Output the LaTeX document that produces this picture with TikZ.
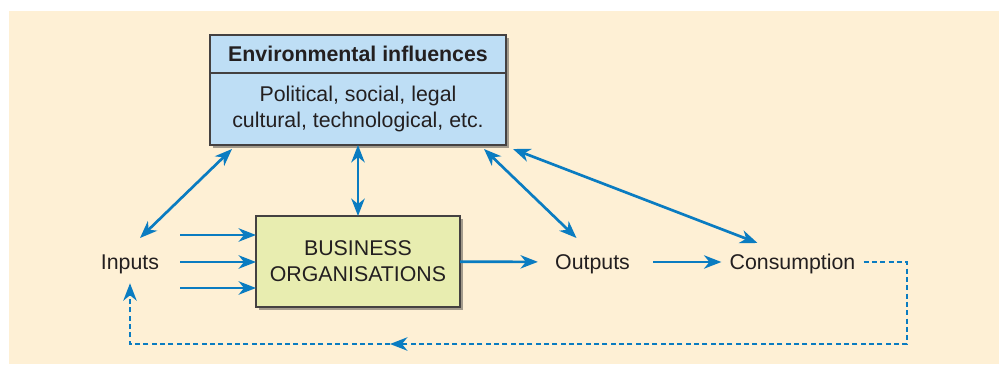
\documentclass[tikz,border=0pt]{standalone}
\usepackage{fontspec}
\setmainfont{Liberation Sans}
\usepackage{xcolor}
\usepackage{tikz}
\usetikzlibrary{positioning}
\usetikzlibrary{arrows.meta}
\usetikzlibrary{shadows}
\definecolor{paper}{HTML}{FEF0D5}
\definecolor{flowblue}{HTML}{0A7CC1}
\definecolor{envfill}{HTML}{BEDEF5}
\definecolor{bizfill}{HTML}{E8EDB0}
\definecolor{inkgray}{HTML}{231F20}
\definecolor{shadowgray}{HTML}{A39B8C}

\begin{document}
\begin{tikzpicture}[x=0.75pt, y=-0.75pt]

                \def\lw{2pt}
                \def\gap{0pt}

                % Looks of the boxes, the plain words and the arrows
                \tikzset{
                    every node/.style={font=\fontsize{16}{19.5}\selectfont, text=inkgray},
                    box/.style={draw=inkgray!85, line width=1pt, outer sep=0pt,
                        align=center, drop shadow={shadow xshift=2.5pt,
                        shadow yshift=-2.5pt, fill=shadowgray, opacity=1}},
                    word/.style={inner xsep=6pt, inner ysep=4pt,
                        text height=11.5pt, text depth=0pt},
                    flowtip/.tip={Stealth[length=13pt, width=10pt, inset=4pt]},
                    flow/.style={draw=flowblue, line width=\lw, -flowtip},
                    twoway/.style={draw=flowblue, line width=\lw, flowtip-flowtip},
                    feedback/.style={draw=flowblue, line width=1.8pt,
                        dash pattern=on 3.75pt off 2.5pt, -flowtip}
                }

                \useasboundingbox (0, 0) rectangle (999, 364);
                \fill[paper] (9, 11) rectangle (999, 364);

                % Boxes and words
                \begin{scope}
                    \node (envhead) [box, fill=envfill, minimum width=222pt,
                    minimum height=28.5pt] at (358, 54)
                    {\bfseries Environmental influences};
                    \node (envbody) [box, fill=envfill, minimum width=222pt,
                    minimum height=54pt, below=\gap of envhead]
                    {Political, social, legal\\cultural, technological, etc.};
                    \node (biz) [box, fill=bizfill, minimum width=153pt,
                    minimum height=68.25pt] at (358, 261.5)
                    {BUSINESS\\ORGANISATIONS};
                    \node (inputs) [word] at (130, 262) {Inputs};
                    \node (outputs) [word] at (592.5, 262) {Outputs};
                    \node (consumption) [word] at (792.5, 262) {Consumption};

                    \coordinate (loopR) at (907, 344);
                    \coordinate (loopM) at (390, 344);
                    \coordinate (loopL) at (130, 344);
                \end{scope}

                % Arrows
                \begin{scope}
                    \foreach \y in {235, 262, 288} {
                        \coordinate (in\y) at (180, \y);
                        \draw[flow] (in\y) -- (biz.west |- in\y);
                    }
                    \draw[flow, shorten >=6.75pt] (biz) -- (outputs);
                    \draw[flow, shorten <=11.25pt] (outputs) -- (consumption);

                    \draw[twoway] ([shift={(10, -24)}]inputs.center)
                        -- ([shift={(22, 4)}]envbody.south west);
                    \draw[twoway] (envbody.south) -- (biz.north);
                    \draw[twoway] ([shift={(-22, 4)}]envbody.south east)
                        -- ([shift={(-16, -24)}]outputs.center);
                    \draw[twoway] ([shift={(7, 4)}]envbody.south east)
                        -- ([shift={(-35, -19)}]consumption.center);

                    \draw[feedback] (consumption.east) -| (loopR) -- (loopM);
                    \draw[feedback, shorten >=6pt] (loopM) -- (loopL)
                        -- (inputs.south);
                \end{scope}

\end{tikzpicture}
\end{document}
